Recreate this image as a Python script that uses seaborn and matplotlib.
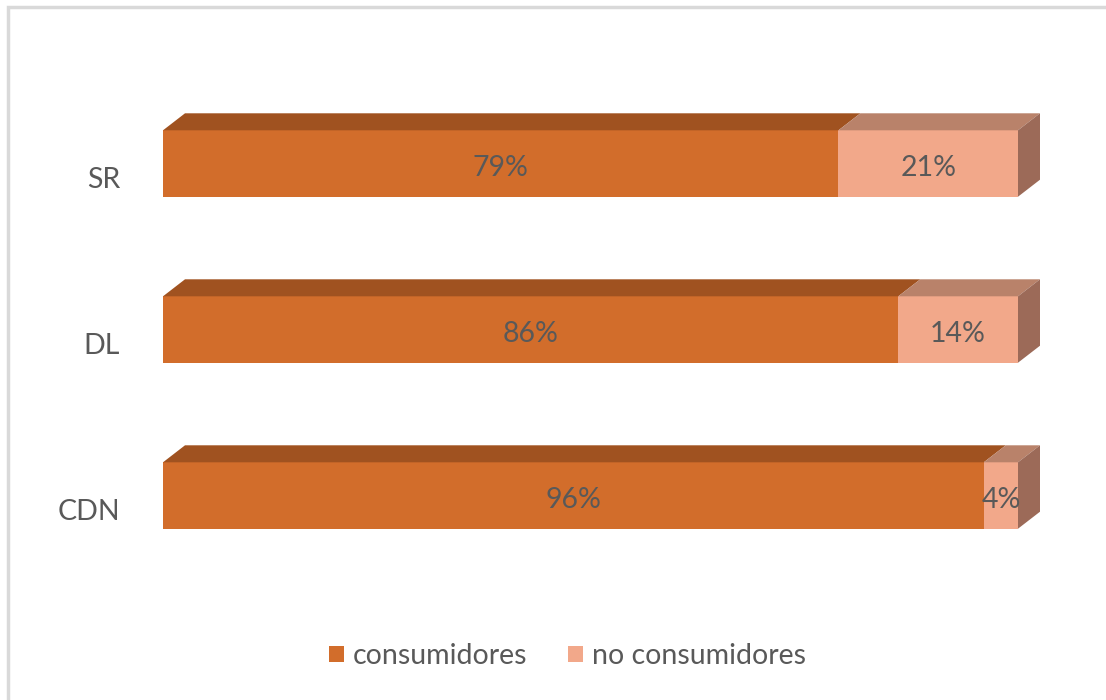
import matplotlib
matplotlib.use("Agg")
import matplotlib.pyplot as plt
from matplotlib.patches import Polygon, Patch, Rectangle
from matplotlib.transforms import ScaledTranslation
import seaborn as sns
import pandas as pd

# ---- data ----
categories = ["SR", "DL", "CDN"]
consumidores = [79, 86, 96]
no_consumidores = [21, 14, 4]
series_names = ["consumidores", "no consumidores"]

# ---- style ----
col_front = ["#D26D2B", "#F2A88A"]
col_top = ["#A05220", "#B9826A"]
col_side = "#9C6A58"
txt_col = "#595959"
fs = 20.5

sns.set_style("white")
plt.rcParams["font.family"] = ["Lato", "DejaVu Sans"]

fig = plt.figure(figsize=(11.06, 7.0), dpi=100)
ax = fig.add_axes([163 / 1106, (700 - 578.5) / 700, 855 / 1106, 498 / 700])

totals = [a + b for a, b in zip(consumidores, no_consumidores)]
df = pd.DataFrame({"cat": categories, "cons": consumidores, "tot": totals})

bar_w = 0.4
sns.barplot(data=df, x="tot", y="cat", orient="h", color=col_front[1],
            width=bar_w, saturation=1, ax=ax, linewidth=0)
sns.barplot(data=df, x="cons", y="cat", orient="h", color=col_front[0],
            width=bar_w, saturation=1, ax=ax, linewidth=0)

ax.set_xlim(0, 100)
ax.set_ylim(2.5, -0.5)

# 3D depth (data units)
dx = 22 / 8.55
dy = 17 / 166

tot_bars = ax.containers[0]
cons_bars = ax.containers[1]
for pt, pc in zip(tot_bars, cons_bars):
    y_top = pt.get_y()
    h = pt.get_height()
    x_c = pc.get_width()
    x_t = pt.get_width()
    ax.add_patch(Polygon([(0, y_top), (x_c, y_top), (x_c + dx, y_top - dy), (dx, y_top - dy)],
                         closed=True, facecolor=col_top[0], edgecolor="none", clip_on=False, zorder=3))
    ax.add_patch(Polygon([(x_c, y_top), (x_t, y_top), (x_t + dx, y_top - dy), (x_c + dx, y_top - dy)],
                         closed=True, facecolor=col_top[1], edgecolor="none", clip_on=False, zorder=3))
    ax.add_patch(Polygon([(x_t, y_top), (x_t + dx, y_top - dy), (x_t + dx, y_top + h - dy), (x_t, y_top + h)],
                         closed=True, facecolor=col_side, edgecolor="none", clip_on=False, zorder=3))

# data labels
lab_off = ScaledTranslation(0, -4 / 100, fig.dpi_scale_trans)
for i, (c, n) in enumerate(zip(consumidores, no_consumidores)):
    ax.text(c / 2, i, f"{c}%", ha="center", va="center", fontsize=fs, color=txt_col, zorder=5,
            transform=ax.transData + lab_off)
    ax.text(c + n / 2, i, f"{n}%", ha="center", va="center", fontsize=fs, color=txt_col, zorder=5,
            transform=ax.transData + lab_off)

# axes styling
ax.set_xlabel("")
ax.set_ylabel("")
ax.set_xticks([])
ax.tick_params(axis="y", length=0, pad=31, labelsize=fs, labelcolor=txt_col)
for lab in ax.get_yticklabels():
    lab.set_transform(lab.get_transform() + ScaledTranslation(0, -14 / 100, fig.dpi_scale_trans))
for s in ax.spines.values():
    s.set_visible(False)
ax.set_facecolor("none")

# legend
handles = [Patch(facecolor=col_front[0], edgecolor="none"),
           Patch(facecolor=col_front[1], edgecolor="none")]
fig.legend(handles, series_names, loc="center", bbox_to_anchor=(567.5 / 1106, 1 - 656 / 700),
           ncol=2, frameon=False, fontsize=fs, labelcolor=txt_col,
           handlelength=0.53, handleheight=0.53, handletextpad=0.32, columnspacing=1.44)

# outer frame (top and left edges visible)
fig.patches.append(Rectangle((7.5 / 1106, -0.1), 1.2, 1 - 6.5 / 700 + 0.1, transform=fig.transFigure,
                             facecolor="none", edgecolor="#D9D9D9", linewidth=2.5))

fig.savefig("out.png", dpi=100, facecolor="white")
